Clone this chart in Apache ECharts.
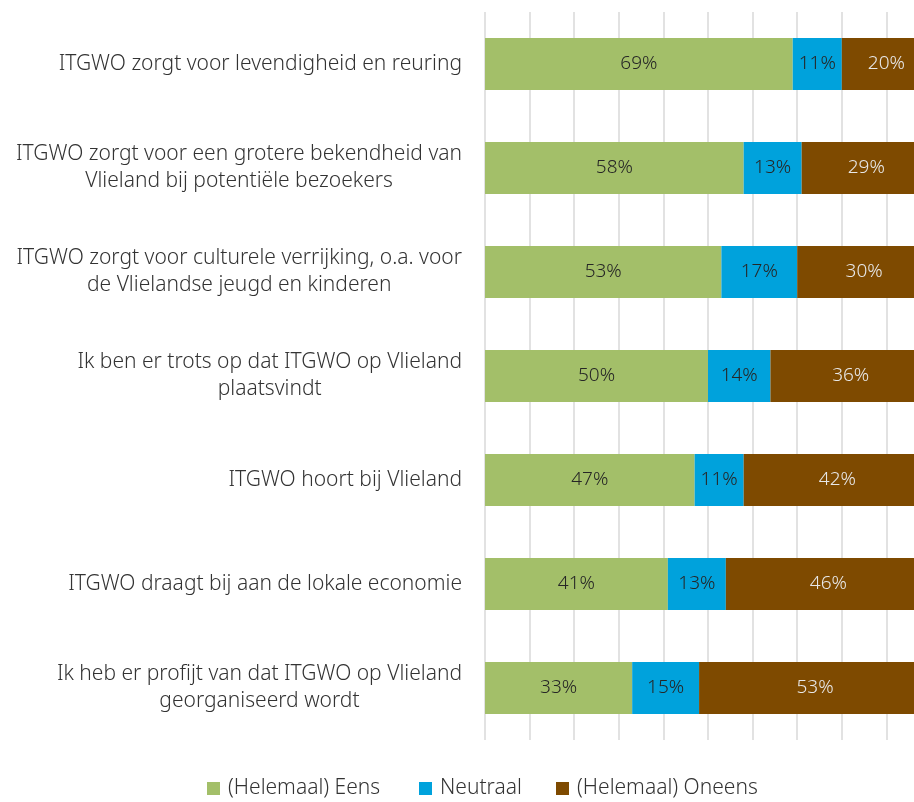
<!DOCTYPE html>
<html>
<head>
<meta charset="utf-8">
<script src="https://cdn.jsdelivr.net/npm/echarts@6/dist/echarts.min.js"></script>
<style>
  html, body { margin: 0; padding: 0; background: #fff; }
  #chart { width: 914px; height: 802px; }
</style>
</head>
<body>
<div id="chart"></div>
<script>
// stellingen (van boven naar beneden)
const categories = [
  'ITGWO zorgt voor levendigheid en reuring',
  'ITGWO zorgt voor een grotere bekendheid van\nVlieland bij potentiële bezoekers',
  'ITGWO zorgt voor culturele verrijking, o.a. voor\nde Vlielandse jeugd en kinderen',
  'Ik ben er trots op dat ITGWO op Vlieland\nplaatsvindt',
  'ITGWO hoort bij Vlieland',
  'ITGWO draagt bij aan de lokale economie',
  'Ik heb er profijt van dat ITGWO op Vlieland\ngeorganiseerd wordt'
];
const seriesNames = ['(Helemaal) Eens', 'Neutraal', '(Helemaal) Oneens'];
const eens = [69, 58, 53, 50, 47, 41, 33];
const neutraal = [11, 13, 17, 14, 11, 13, 15];
const oneens = [20, 29, 30, 36, 42, 46, 53];

const FONT = '"Noto Sans", "Open Sans", sans-serif';
const legendLeft = [207, 419, 556];

function barSeries(name, data, color, labelColor) {
  return {
    name: name,
    type: 'bar',
    stack: 'tot',
    data: data,
    barWidth: '50%',
    itemStyle: { color: color },
    label: {
      show: true,
      position: 'inside',
      formatter: '{c}%',
      color: labelColor,
      fontFamily: FONT,
      fontWeight: 300,
      fontSize: 19
    }
  };
}

let chart = echarts.init(document.getElementById('chart'));
chart.setOption({
  animation: false,
  grid: { left: 485, top: 12, bottom: 62, width: 446, outerBoundsMode: 'none' },
  legend: seriesNames.map(function (n, i) {
    return {
      top: 778,
      left: legendLeft[i],
      padding: 0,
      itemWidth: 13,
      itemHeight: 13,
      icon: 'rect',
      textStyle: { fontFamily: FONT, fontWeight: 300, fontSize: 21, color: '#333', padding: [0, 0, 0, 3] },
      data: [n]
    };
  }),
  xAxis: {
    type: 'value',
    min: 0,
    max: 100,
    interval: 10,
    axisLabel: { show: false },
    axisLine: { show: false },
    axisTick: { show: false },
    splitLine: { show: true, lineStyle: { color: '#d9d9d9', width: 1.5 } }
  },
  yAxis: {
    type: 'category',
    inverse: true,
    data: categories,
    axisLine: { show: false },
    axisTick: { show: false },
    axisLabel: {
      margin: 23,
      align: 'right',
      fontFamily: FONT,
      fontWeight: 300,
      fontSize: 21,
      lineHeight: 27,
      color: '#333',
      formatter: function (v) {
        return v.split('\n').map(function (l) { return '{c|' + l + '}'; }).join('\n');
      },
      rich: {
        c: { align: 'center', fontFamily: FONT, fontWeight: 300, fontSize: 21, lineHeight: 27, color: '#333' }
      }
    }
  },
  series: [
    barSeries(seriesNames[0], eens, '#a3bf69', '#262626'),
    barSeries(seriesNames[1], neutraal, '#00a2dc', '#262626'),
    barSeries(seriesNames[2], oneens, '#7e4a00', '#e8e8e8')
  ]
});
</script>
</body>
</html>
